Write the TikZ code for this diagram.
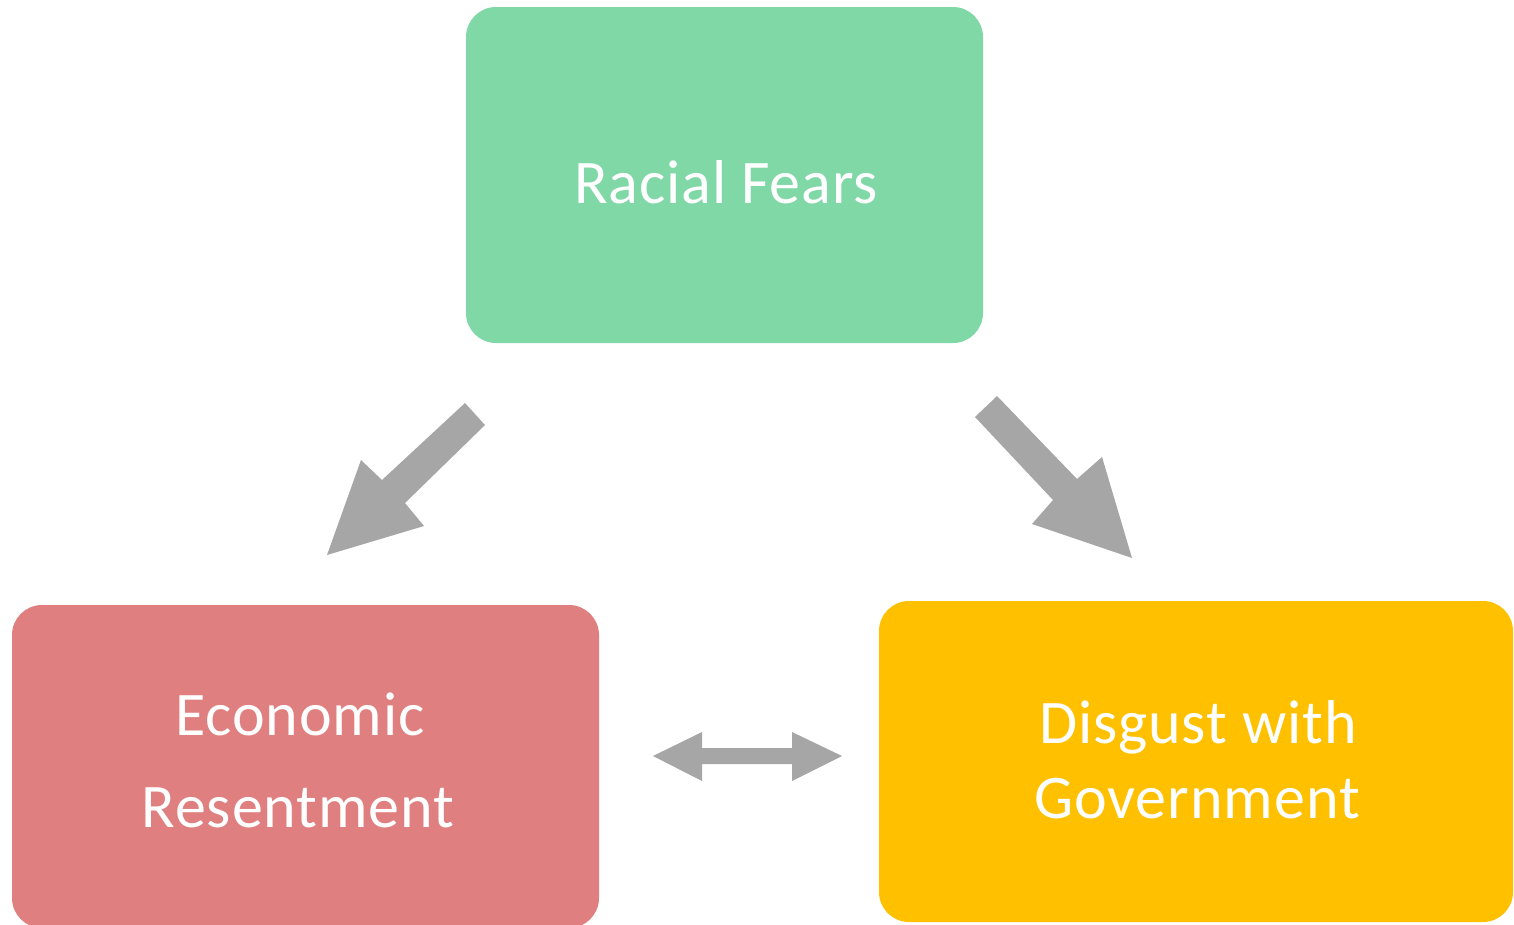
\documentclass[tikz,border=0pt]{standalone}
\usepackage{fontspec}
\setmainfont{Carlito}[LetterSpace=1.5]
\definecolor{rfgreen}{HTML}{80D8A7}
\definecolor{erred}{HTML}{E07F7F}
\definecolor{dgyellow}{HTML}{FFC000}
\definecolor{arrgrey}{HTML}{A6A6A6}
\tikzset{
  box/.style={rectangle, rounded corners=30pt, inner sep=0pt, draw=none},
  lbl/.style={anchor=base, inner sep=0pt, text=white, font=\fontsize{62}{74}\selectfont},
  blockarrow/.style={fill=arrgrey, draw=none}
}
\begin{document}
\begin{tikzpicture}[x=1pt, y=-1pt]
\useasboundingbox (0,0) rectangle (1514,924);
\clip (0,0) rectangle (1514,924);
% boxes
\node[box, fill=rfgreen, minimum width=517pt, minimum height=336pt] (rf) at (724.5,175) {};
\node[box, fill=erred, minimum width=587pt, minimum height=323pt] (er) at (305.5,766.5) {};
\node[box, fill=dgyellow, minimum width=634pt, minimum height=321pt] (dg) at (1196,761.5) {};
% texts
\node[lbl] (rft) at (726,203) {Racial Fears};
\node[lbl] (ert1) at (300,735) {Economic};
\node[lbl] (ert2) at (298,827) {Resentment};
\node[lbl] (dgt1) at (1198,743) {Disgust with};
\node[lbl] (dgt2) at (1197,818) {Government};
% block arrows
\fill[blockarrow] (465,403) -- (485,425) -- (405,503) -- (424,526) -- (327,555) -- (361,460) -- (382,480) -- cycle;
\fill[blockarrow] (997,396) -- (1077,479) -- (1102,457) -- (1132,558) -- (1032,524) -- (1053,500) -- (975,417) -- cycle;
\fill[blockarrow] (653,756) -- (702,732) -- (702,748) -- (792,748) -- (792,732) -- (842,756) -- (792,781) -- (792,764) -- (702,764) -- (702,781) -- cycle;
\end{tikzpicture}
\end{document}
